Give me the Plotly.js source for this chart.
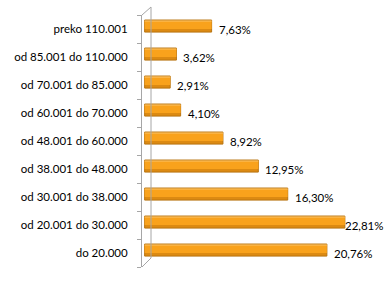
<!DOCTYPE html>
<html>
<head>
<meta charset="utf-8">
<script src="https://cdn.plot.ly/plotly-3.0.1.min.js"></script>
<style>html,body{margin:0;padding:0;background:#fff;}#chart{width:386px;height:283px;}</style>
</head>
<body>
<div id="chart"></div>
<script>
// Categories listed bottom to top
var categories = ["do 20.000", "od 20.001 do 30.000", "od 30.001 do 38.000", "od 38.001 do 48.000",
  "od 48.001 do 60.000", "od 60.001 do 70.000", "od 70.001 do 85.000", "od 85.001 do 110.000", "preko 110.001"];
var values = [20.76, 22.81, 16.30, 12.95, 8.92, 4.10, 2.91, 3.62, 7.63];
var valueLabels = ["20,76%", "22,81%", "16,30%", "12,95%", "8,92%", "4,10%", "2,91%", "3,62%", "7,63%"];

var FONT = "Lato, 'Open Sans', sans-serif";
var maxVal = Math.max.apply(null, values);

var base = {
  type: "bar", orientation: "h", y: categories, x: values,
  width: 0.43, offset: -0.11,
  marker: {color: "#DC8A12", line: {color: "#B87410", width: 1}},
  hoverinfo: "skip", showlegend: false
};
var highlight = {
  type: "bar", orientation: "h", y: categories, x: values,
  width: 0.29, offset: 0.0,
  marker: {color: "#F9A21C", line: {width: 0}},
  hoverinfo: "skip", showlegend: false
};
var shine = {
  type: "bar", orientation: "h", y: categories, x: values,
  width: 0.04, offset: 0.265,
  marker: {color: "#FCC46A", line: {width: 0}},
  hoverinfo: "skip", showlegend: false
};

var annotations = values.map(function (v, i) {
  return {
    x: v, y: categories[i], xref: "x", yref: "y",
    text: valueLabels[i], showarrow: false,
    xanchor: "left", yanchor: "middle",
    xshift: v === maxVal ? -2 : 5, yshift: 0,
    font: {family: FONT, size: 11.5, color: "#000"}
  };
});

var grey = "#A6A6A6";
var shapes = [
  {type: "line", xref: "paper", yref: "paper", xsizemode: "pixel", ysizemode: "pixel",
   xanchor: 0, yanchor: 0, x0: 9, x1: 9, y0: 9, y1: 260, line: {color: grey, width: 1}},
  {type: "line", xref: "paper", yref: "paper", xsizemode: "pixel", ysizemode: "pixel",
   xanchor: 0, yanchor: 0, x0: 0, x1: 9, y0: 0, y1: 9, line: {color: grey, width: 1}},
  {type: "line", xref: "paper", yref: "paper", xsizemode: "pixel", ysizemode: "pixel",
   xanchor: 0, yanchor: 0, x0: 0, x1: 9, y0: 252, y1: 260, line: {color: grey, width: 1}}
];

var layout = {
  width: 386, height: 283,
  margin: {l: 142, r: 14, t: 15, b: 16},
  paper_bgcolor: "#fff", plot_bgcolor: "rgba(0,0,0,0)",
  barmode: "overlay",
  showlegend: false,
  font: {family: FONT, size: 11.5, color: "#000"},
  xaxis: {range: [-0.3, 25.9], visible: false, fixedrange: true},
  yaxis: {
    type: "category", categoryorder: "array", categoryarray: categories,
    showline: true, linecolor: grey, linewidth: 1,
    ticks: "outside", ticklen: 4, tickcolor: grey, tickson: "boundaries",
    showgrid: false, zeroline: false, ticklabelstandoff: 11,
    tickfont: {family: FONT, size: 11.5, color: "#000"}, fixedrange: true
  },
  annotations: annotations,
  shapes: shapes
};

Plotly.newPlot("chart", [base, highlight, shine], layout, {displayModeBar: false, staticPlot: true});
</script>
</body>
</html>
